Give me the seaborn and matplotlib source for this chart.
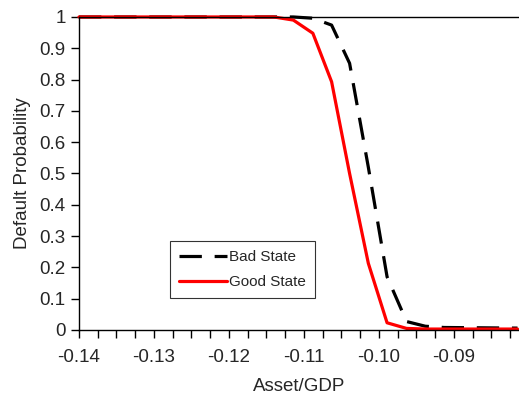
import pandas as pd
import numpy as np
import matplotlib
matplotlib.use("Agg")
import matplotlib.pyplot as plt
from matplotlib.ticker import MultipleLocator, FormatStrFormatter
import seaborn as sns

# valores
x_bad = [-0.14, -0.1114, -0.1088, -0.1063, -0.1039, -0.1014, -0.0989, -0.0963, -0.0938, -0.0913, -0.0815]
y_bad = [1.0, 1.0, 0.996, 0.974, 0.852, 0.52, 0.17, 0.027, 0.012, 0.008, 0.006]

x_good = [-0.14, -0.1165, -0.114, -0.1114, -0.1088, -0.1063, -0.1039, -0.1014, -0.0989, -0.0963, -0.0938, -0.0815]
y_good = [1.0, 1.0, 1.0, 0.99, 0.948, 0.793, 0.50, 0.213, 0.023, 0.005, 0.003, 0.003]

sns.set_style("white")
plt.rcParams['font.family'] = ['Liberation Sans', 'DejaVu Sans']
plt.rcParams['axes.unicode_minus'] = False

fig = plt.figure(figsize = (5.19, 4.04), dpi = 100)
ax = fig.add_axes([0.1522, 0.1832, 0.8478, 0.7748])

df_bad = pd.DataFrame({'x': x_bad, 'y': y_bad})
df_good = pd.DataFrame({'x': x_good, 'y': y_good})

sns.lineplot(data = df_bad, x = 'x', y = 'y', ax = ax, color = 'black', linewidth = 2.3,
             dashes = False, label = 'Bad State', clip_on = False)
ax.lines[-1].set_dashes((7, 4))
sns.lineplot(data = df_good, x = 'x', y = 'y', ax = ax, color = 'red', linewidth = 2.3,
             label = 'Good State', clip_on = False)

ax.set_xlim(-0.14, -0.0813)
ax.set_ylim(0, 1)
ax.xaxis.set_major_locator(MultipleLocator(0.01))
ax.xaxis.set_minor_locator(MultipleLocator(0.0025))
ax.xaxis.set_major_formatter(FormatStrFormatter('%.2f'))
ax.yaxis.set_major_locator(MultipleLocator(0.1))
ax.yaxis.set_major_formatter(FormatStrFormatter('%g'))
ax.tick_params(axis = 'both', which = 'both', direction = 'out', length = 6, width = 1, color = 'black',
               labelsize = 13.5, bottom = True, left = True)
ax.tick_params(axis = 'x', pad = 8)

for s in ['left', 'bottom', 'top']:
  ax.spines[s].set_color('black')
  ax.spines[s].set_linewidth(1)
ax.spines['right'].set_visible(False)

ax.set_xlabel('Asset/GDP', fontsize = 13.5, labelpad = 8)
ax.set_ylabel('Default Probability', fontsize = 13.5, labelpad = 6)

leg = ax.legend(loc = 'lower left', bbox_to_anchor = (0.207, 0.102), fontsize = 11, frameon = True,
                fancybox = False, edgecolor = 'black', handlelength = 3.1, borderpad = 0.6,
                labelspacing = 0.7, handletextpad = 0.15, borderaxespad = 0)
leg.get_frame().set_linewidth(0.8)

fig.savefig('out.png', dpi = 100)
